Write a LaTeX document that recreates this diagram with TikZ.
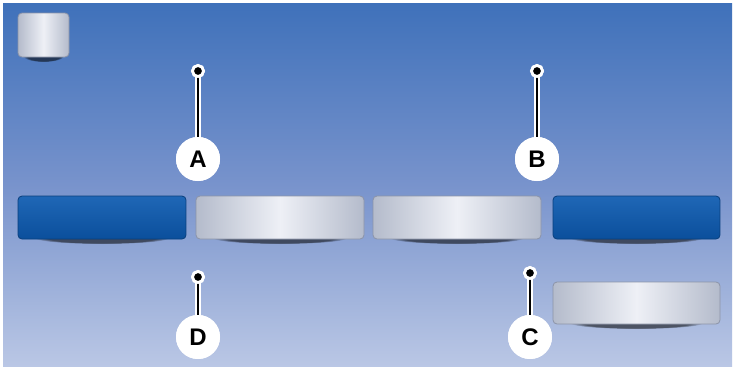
\documentclass[tikz,border=0pt]{standalone}
\usepackage{fontspec}
\setmainfont{Liberation Sans}
\usetikzlibrary{fadings}
\definecolor{bgtop}{HTML}{3F71BA}
\definecolor{bgmid}{HTML}{7893CC}
\definecolor{bgbot}{HTML}{BAC7E5}
\definecolor{silverEdge}{HTML}{B4BBCB}
\definecolor{silverMid}{HTML}{EEF0F6}
\definecolor{blueTop}{HTML}{1F67B6}
\definecolor{blueBot}{HTML}{0B4F9C}
\definecolor{rimGray}{HTML}{8C94A8}
\tikzset{
  silverbtn/.style={rounded corners=4pt, draw=rimGray, line width=0.8pt,
    left color=silverEdge, right color=silverEdge, middle color=silverMid},
  bluebtn/.style={rounded corners=4pt, draw=blueBot!80!black, line width=0.8pt,
    top color=blueTop, bottom color=blueBot},
  btnshadow/.style={fill=black, opacity=0.55, path fading=circle with fuzzy edge 20 percent},
  callout/.style={circle, fill=white, minimum size=44pt, inner sep=0pt,
    font=\fontsize{24}{24}\selectfont\bfseries},
  pin/.style={circle, fill=black, draw=white, line width=2.8pt, minimum size=11pt, inner sep=0pt},
  leadw/.style={white, line width=6pt},
  leadb/.style={black, line width=2pt}
}
\newcommand{\btnshade}[3]{% x1 x2 ybottom
  \fill[btnshadow] ({(#1+#2)/2},{#3-1}) ellipse ({(#2-#1)*0.40} and 6);}
\begin{document}
\begin{tikzpicture}[x=1pt,y=-1pt]
\useasboundingbox (0,0) rectangle (733,368);
\fill[white] (0,0) rectangle (733,368);
\shade[top color=bgtop, bottom color=bgbot, middle color=bgmid] (3,3) rectangle (732,366);

% small square button
\btnshade{18}{69}{57}
\path[silverbtn] (18,13) rectangle (69,57);

% row of buttons
\btnshade{18}{186}{239}
\path[bluebtn] (18,196) rectangle (186,239);
\btnshade{196}{364}{239}
\path[silverbtn] (196,196) rectangle (364,239);
\btnshade{373}{541}{239}
\path[silverbtn] (373,196) rectangle (541,239);
\btnshade{553}{720}{239}
\path[bluebtn] (553,196) rectangle (720,239);
\btnshade{553}{720}{324}
\path[silverbtn] (553,282) rectangle (720,324);

% callouts
\node[pin] (pa) at (198,71) {};
\node[callout] (ca) at (198,159) {A};
\node[pin] (pb) at (537,71) {};
\node[callout] (cb) at (537,159) {B};
\node[pin] (pd) at (198,277) {};
\node[callout] (cd) at (198,337) {D};
\node[pin] (pc) at (530,273) {};
\node[callout] (cc) at (530,337) {C};

\foreach \p/\c in {pa/ca,pb/cb,pd/cd,pc/cc}{
  \draw[leadw] (\p.center) -- (\c.center);
}
\foreach \p/\c in {pa/ca,pb/cb,pd/cd,pc/cc}{
  \draw[leadb] (\p.center) -- (\c.north);
}
\node[pin] at (pa) {};
\node[pin] at (pb) {};
\node[pin] at (pd) {};
\node[pin] at (pc) {};
\node[callout] at (ca) {A};
\node[callout] at (cb) {B};
\node[callout] at (cd) {D};
\node[callout] at (cc) {C};
\end{tikzpicture}
\end{document}
